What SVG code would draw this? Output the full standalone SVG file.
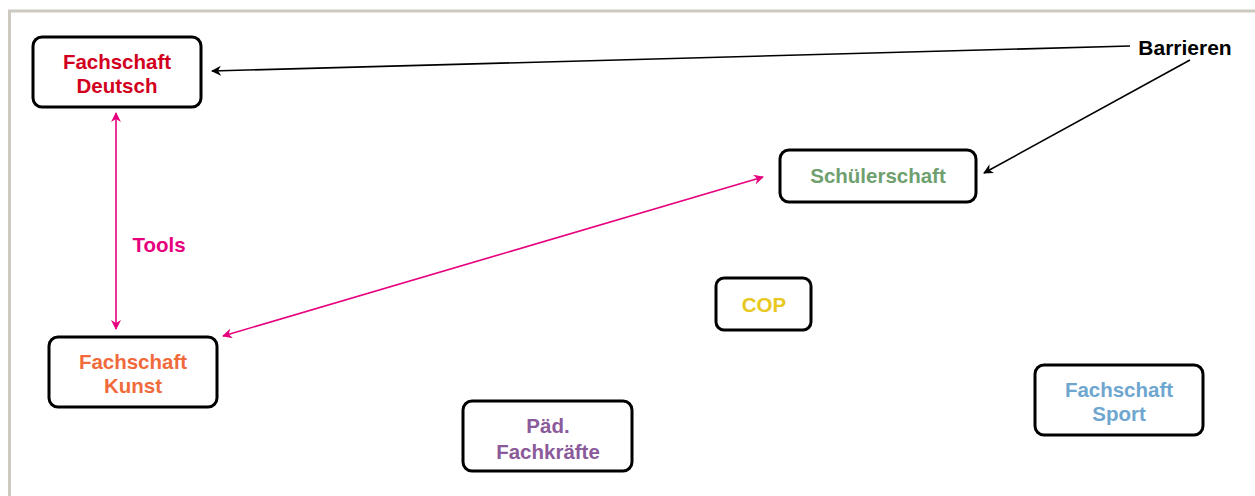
<svg xmlns="http://www.w3.org/2000/svg" width="1255" height="496" viewBox="0 0 1255 496">
<style>
.box{fill:#fff;stroke:#000;stroke-width:3}
.t{font-family:"Liberation Sans",Arial,sans-serif;font-weight:bold;font-size:20.5px;text-anchor:middle;dominant-baseline:central}
.blk{stroke:#000;stroke-width:1.6;fill:none}
.mag{stroke:#e6007e;stroke-width:1.6;fill:none}
</style>
<defs>
<marker id="ab" viewBox="0 0 10 10" refX="9" refY="5" markerWidth="10" markerHeight="10" markerUnits="userSpaceOnUse" orient="auto-start-reverse"><path d="M0,0 L10,5 L0,10 L3,5 Z" fill="#000"/></marker>
<marker id="am" viewBox="0 0 10 10" refX="9" refY="5" markerWidth="10" markerHeight="10" markerUnits="userSpaceOnUse" orient="auto-start-reverse"><path d="M0,0 L10,5 L0,10 L3,5 Z" fill="#e6007e"/></marker>
</defs>
<rect x="0" y="0" width="1255" height="496" fill="#fff"/>
<path d="M9.5,496 V11 H1255" fill="none" stroke="#cdc9c0" stroke-width="3"/>
<g id="connectors">
<line class="blk" x1="1130" y1="46" x2="212" y2="71" marker-end="url(#ab)"/>
<line class="blk" x1="1190" y1="60" x2="984" y2="173" marker-end="url(#ab)"/>
<line class="mag" x1="116" y1="113" x2="116" y2="329" marker-start="url(#am)" marker-end="url(#am)"/>
<line class="mag" x1="223" y1="336" x2="763" y2="177" marker-start="url(#am)" marker-end="url(#am)"/>
<text class="t" x="159" y="244" fill="#e6007e">Tools</text>
</g>
<g id="barrieren"><text class="t" x="1185" y="47" fill="#000" style="font-size:21px">Barrieren</text></g>
<g id="deutsch">
<rect class="box" x="33" y="37" width="168" height="70" rx="9"/>
<text class="t" x="117" y="61" fill="#d2001e">Fachschaft</text>
<text class="t" x="117" y="85" fill="#d2001e">Deutsch</text>
</g>
<g id="schuelerschaft">
<rect class="box" x="780" y="150" width="196" height="52" rx="9"/>
<text class="t" x="878" y="175" fill="#6f9f6f">Schülerschaft</text>
</g>
<g id="kunst">
<rect class="box" x="49" y="337" width="168" height="70" rx="9"/>
<text class="t" x="133" y="361" fill="#f06a3c">Fachschaft</text>
<text class="t" x="133" y="385" fill="#f06a3c">Kunst</text>
</g>
<g id="cop">
<rect class="box" x="716" y="278" width="95" height="52" rx="8"/>
<text class="t" x="764" y="304" fill="#e8c820">COP</text>
</g>
<g id="paed">
<rect class="box" x="463" y="401" width="169" height="70" rx="9"/>
<text class="t" x="548" y="425" fill="#8a5a9a">Päd.</text>
<text class="t" x="548" y="451" fill="#8a5a9a">Fachkräfte</text>
</g>
<g id="sport">
<rect class="box" x="1035" y="365" width="168" height="70" rx="9"/>
<text class="t" x="1119" y="389" fill="#6fa6d0">Fachschaft</text>
<text class="t" x="1119" y="413" fill="#6fa6d0">Sport</text>
</g>
</svg>
